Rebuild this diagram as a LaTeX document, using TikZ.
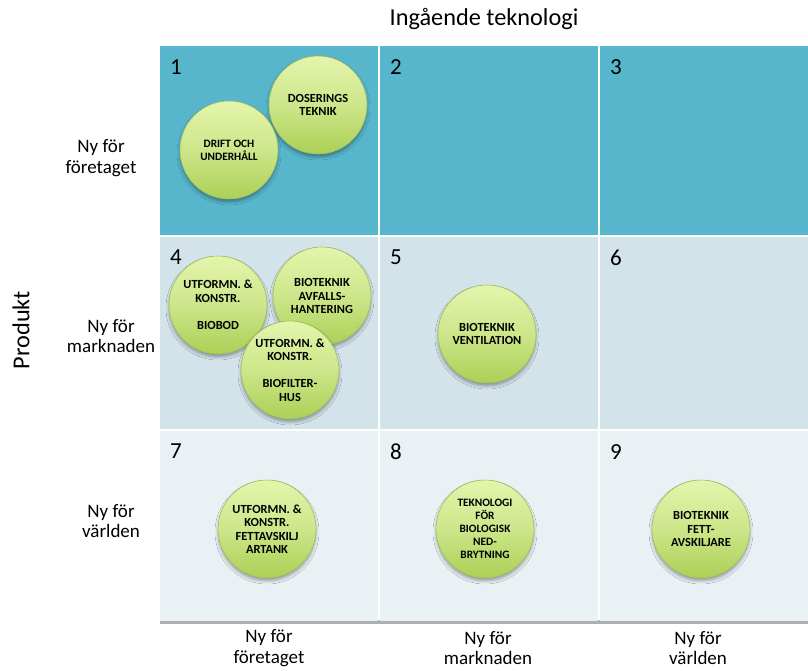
\documentclass[tikz,border=0pt]{standalone}
\usepackage{fontspec}
\setmainfont{Carlito}
\usetikzlibrary{shadows.blur}

\definecolor{rowA}{HTML}{58B6CC}
\definecolor{rowB}{HTML}{D3E3EA}
\definecolor{rowC}{HTML}{EAF1F5}
\definecolor{ballTop}{HTML}{E4F5AC}
\definecolor{ballMid}{HTML}{CDE68A}
\definecolor{ballBot}{HTML}{ABD056}
\definecolor{ballEdge}{HTML}{A0C05C}
\definecolor{gridShadow}{HTML}{9A9A9A}

\tikzset{
  cell/.style={anchor=north west, inner sep=0pt, outer sep=0pt, draw=none},
  num/.style={anchor=north west, inner sep=0pt, font=\fontsize{23}{23}\selectfont},
  axislabel/.style={align=center, inner sep=0pt, font=\fontsize{19}{20.5}\selectfont},
  title/.style={inner sep=0pt, font=\fontsize{24.3}{26}\selectfont},
  ball/.style={circle, minimum size=98pt, inner sep=0pt, align=center,
    draw=ballEdge, line width=0.6pt,
    top color=ballTop, bottom color=ballBot, middle color=ballMid,
    blur shadow={shadow xshift=0pt, shadow yshift=-3pt, shadow blur radius=3pt, shadow opacity=35},
    font=\bfseries\fontsize{12.4}{13.5}\selectfont},
  smallball/.style={ball, font=\bfseries\fontsize{11.3}{13}\selectfont}
}

\begin{document}
\begin{tikzpicture}[x=1pt, y=-1pt]
\useasboundingbox (0,0) rectangle (808,670);
\fill[white] (0,0) rectangle (808,670);

% shadow line under the grid
\fill[gridShadow, opacity=0.8] (160,620) rectangle (808,623.5);

% grid cells
\node[cell, fill=rowA, minimum width=218pt, minimum height=189pt] (c1) at (160,46) {};
\node[cell, fill=rowA, minimum width=218pt, minimum height=189pt] (c2) at (380,46) {};
\node[cell, fill=rowA, minimum width=208pt, minimum height=189pt] (c3) at (600,46) {};
\node[cell, fill=rowB, minimum width=218pt, minimum height=192pt] (c4) at (160,237) {};
\node[cell, fill=rowB, minimum width=218pt, minimum height=192pt] (c5) at (380,237) {};
\node[cell, fill=rowB, minimum width=208pt, minimum height=192pt] (c6) at (600,237) {};
\node[cell, fill=rowC, minimum width=218pt, minimum height=190pt] (c7) at (160,431) {};
\node[cell, fill=rowC, minimum width=218pt, minimum height=190pt] (c8) at (380,431) {};
\node[cell, fill=rowC, minimum width=208pt, minimum height=190pt] (c9) at (600,431) {};

% cell numbers
\foreach \c/\n in {c1/1,c2/2,c3/3,c4/4,c5/5,c6/6,c7/7,c8/8,c9/9}
  \node[num] (n\n) at ([xshift=10pt, yshift=-13pt]\c.north west) {\n};

% axis titles
\node[title] (xtitle) at (484,19) {Ingående teknologi};
\node[title, rotate=90] (ytitle) at (21,330) {Produkt};

% row labels
\node[axislabel] (r1) at (101,158) {Ny för\\företaget};
\node[axislabel] (r2) at (111,336) {Ny för\\marknaden};
\node[axislabel] (r3) at (111,521) {Ny för\\världen};

% column labels
\node[axislabel] (k1) at (269,648) {Ny för\\företaget};
\node[axislabel] (k2) at (488,648) {Ny för\\marknaden};
\node[axislabel] (k3) at (698,648) {Ny för\\världen};

% technology bubbles
\node[ball] (dos) at (318,105) {DOSERINGS\\TEKNIK};
\node[smallball] (drift) at (229,150) {DRIFT OCH\\UNDERHÅLL};

\node[ball] (biobod) at (218,305) {UTFORMN. \&\\KONSTR.\\[13.5pt]BIOBOD};
\node[ball] (avfall) at (322,296) {BIOTEKNIK\\AVFALLS-\\HANTERING};
\node[ball] (filter) at (290,370) {UTFORMN. \&\\KONSTR.\\[13.5pt]BIOFILTER-\\HUS};

\node[ball] (vent) at (487,334) {BIOTEKNIK\\VENTILATION};

\node[ball] (fettank) at (267,529) {UTFORMN. \&\\KONSTR.\\FETTAVSKILJ\\ARTANK};
\node[smallball] (nedbr) at (485,529) {TEKNOLOGI\\FÖR\\BIOLOGISK\\NED-\\BRYTNING};
\node[ball] (fett) at (701,529) {BIOTEKNIK\\FETT-\\AVSKILJARE};
\end{tikzpicture}
\end{document}
